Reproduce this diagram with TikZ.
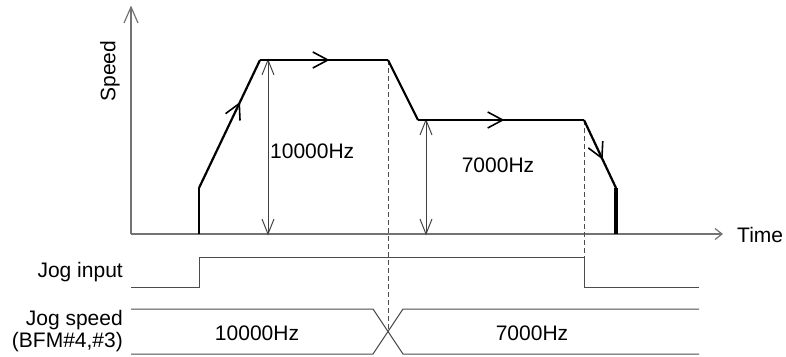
\documentclass[tikz,border=0pt]{standalone}
\usepackage{fontspec}
\setmainfont{Liberation Sans}
\usetikzlibrary{decorations.markings}
\begin{document}
\begin{tikzpicture}[x=1pt,y=-1pt,
  axis/.style={draw=black!55,line width=1.2pt},
  profile/.style={draw=black,line width=2.2pt,line join=miter},
  thinline/.style={draw=black!70,line width=1pt},
  dimline/.style={draw=black!75,line width=1pt,postaction={decorate},decoration={markings,
    mark=at position 0 with {\draw[black!75,line width=1pt] (15pt,6pt) -- (0pt,0pt) -- (15pt,-6pt);},
    mark=at position 1 with {\draw[black!75,line width=1pt] (-15pt,6pt) -- (0pt,0pt) -- (-15pt,-6pt);}}},
  endbarb/.style n args={3}{postaction={decorate},decoration={markings,
    mark=at position 1 with {\draw[black!55,line width=1.2pt] (-#1,#2) -- (0pt,0pt) -- (-#1,-#2);}}},
  dashline/.style={draw=black!70,line width=1pt,dash pattern=on 5pt off 3pt},
  lbl/.style={inner sep=0pt,font=\fontsize{21}{22}\selectfont},
  midarrow/.style={postaction={decorate},decoration={markings,
    mark=at position #1 with {\draw[black,line width=1.6pt,line join=miter] (-15pt,8pt) -- (0pt,0pt) -- (-15pt,-8pt);}}}
]
\useasboundingbox (0,0) rectangle (786,356);
% coordinates
\coordinate (O) at (131,234);
\coordinate (Ytop) at (131,7);
\coordinate (Xend) at (722,234);
\coordinate (p0) at (199,234);
\coordinate (p1) at (199,188);
\coordinate (p2) at (260,60);
\coordinate (p3) at (388,60);
\coordinate (p4) at (418,120);
\coordinate (p5) at (584,120);
\coordinate (p6) at (616,188);
\coordinate (p7) at (616,234);
% axes
\draw[axis,endbarb={16pt}{7pt}{}] (O) -- (Ytop);
\draw[axis,endbarb={7pt}{5.5pt}{}] (O) -- (Xend);
\node[lbl,rotate=90] (speed) at (110,71) {Speed};
\node[lbl,anchor=west] (time) at (737,235) {Time};
% dashed guides
\coordinate (cross) at (388,332);
\coordinate (jhi2) at (584,257);
\draw[dashline] (p3) -- (cross);
\draw[dashline] (p5) -- (jhi2);
% dimension arrows
\coordinate (d1t) at (268,60);
\coordinate (d1b) at (268,234);
\coordinate (d2t) at (426,120);
\coordinate (d2b) at (426,234);
\draw[dimline] (d1t) -- (d1b);
\draw[dimline] (d2t) -- (d2b);
\node[lbl,anchor=west] (f1) at (270,151) {10000Hz};
\node[lbl,anchor=center] (f2) at (498,165) {7000Hz};
% profile
\draw[profile] (p0) -- (p1);
\draw[profile,midarrow=0.66] (p1) -- (p2);
\draw[profile,midarrow=0.53] (p2) -- (p3);
\draw[profile] (p3) -- (p4);
\draw[profile,midarrow=0.51] (p4) -- (p5);
\draw[profile,midarrow=0.56] (p5) -- (p6);
\draw[draw=black,line width=3.5pt] (p6) -- (p7);
% jog input
\coordinate (j0) at (131,287);
\coordinate (j1) at (199,287);
\coordinate (j2) at (199,257);
\coordinate (j4) at (584,287);
\coordinate (j5) at (699,287);
\draw[thinline] (j0) -- (j1) -- (j2) -- (jhi2) -- (j4) -- (j5);
\node[lbl,anchor=east] (jogin) at (123,272) {Jog input};
% jog speed
\coordinate (s0u) at (131,309);
\coordinate (s1u) at (373,309);
\coordinate (s0l) at (131,354);
\coordinate (s1l) at (373,354);
\coordinate (s2u) at (403,309);
\coordinate (s2l) at (403,354);
\coordinate (s3u) at (699,309);
\coordinate (s3l) at (699,354);
\draw[thinline] (s0u) -- (s1u) -- (s2l) -- (s3l);
\draw[thinline] (s0l) -- (s1l) -- (s2u) -- (s3u);
\node[lbl,anchor=east,align=right] (jogsp) at (123,331) {Jog speed\\(BFM\#4,\#3)};
\node[lbl] (v1) at (257,333) {10000Hz};
\node[lbl] (v2) at (532,333) {7000Hz};
\end{tikzpicture}
\end{document}
